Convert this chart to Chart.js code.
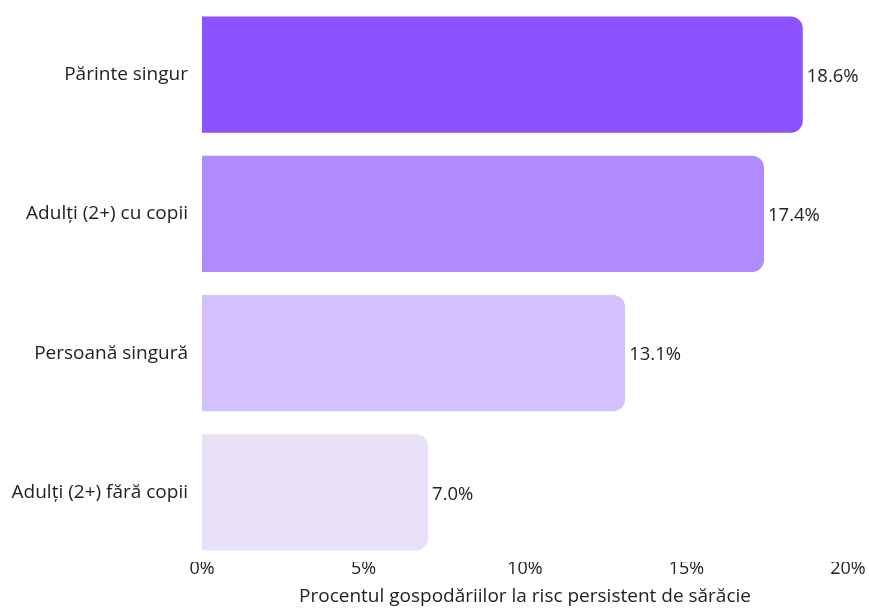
<!DOCTYPE html>
<html>
<head>
<meta charset="utf-8">
<script src="https://cdn.jsdelivr.net/npm/chart.js@4"></script>
<style>
  html, body { margin: 0; padding: 0; background: #fff; }
  #wrap { width: 869px; height: 608px; }
</style>
</head>
<body>
<div id="wrap"><canvas id="grafic"></canvas></div>
<script>
// date
var categorii = ["Părinte singur", "Adulți (2+) cu copii", "Persoană singură", "Adulți (2+) fără copii"];
var valori = [18.6, 17.4, 13.1, 7.0];
var culori = ["#8C52FF", "#B08BFF", "#D4C1FF", "#E8E0F7"];
var titluAxa = "Procentul gospodăriilor la risc persistent de sărăcie";

var FONT = "'Open Sans', sans-serif";
var TEXT = "#222222";
var MARIME = 19;

// eticheta de valoare la capatul barei
var eticheteValori = {
  id: 'eticheteValori',
  afterDatasetsDraw: function(chart){
    var ctx = chart.ctx;
    var meta = chart.getDatasetMeta(0);
    ctx.save();
    ctx.font = "18.5px " + FONT;
    ctx.fillStyle = TEXT;
    ctx.textAlign = "left";
    ctx.textBaseline = "middle";
    meta.data.forEach(function(bar, i){
      ctx.fillText(valori[i].toFixed(1) + "%", bar.x + 4, bar.y + 2);
    });
    ctx.restore();
  }
};

var canvas = document.getElementById('grafic').getContext('2d');
window.grafic = new Chart(canvas, {
  type: 'bar',
  data: {
    labels: categorii,
    datasets: [{
      data: valori,
      backgroundColor: culori,
      borderRadius: { topLeft: 0, bottomLeft: 0, topRight: 12, bottomRight: 12 },
      borderSkipped: false,
      barPercentage: 0.835,
      categoryPercentage: 1
    }]
  },
  options: {
    indexAxis: 'y',
    responsive: true,
    maintainAspectRatio: false,
    animation: false,
    layout: { padding: { top: 5, right: 21, left: 0, bottom: 0 } },
    plugins: {
      legend: { display: false },
      tooltip: { enabled: false }
    },
    scales: {
      x: {
        min: 0,
        max: 20,
        grid: { display: false, drawTicks: false },
        border: { display: false },
        afterFit: function(scale){ scale.height = 46; },
        ticks: {
          stepSize: 5,
          padding: -4,
          color: TEXT,
          font: { family: FONT, size: 18 },
          callback: function(v){ return v + "%"; }
        },
        title: {
          display: true,
          text: titluAxa,
          color: TEXT,
          font: { family: FONT, size: MARIME },
          padding: { top: 0, bottom: 0 }
        }
      },
      y: {
        grid: { display: false, drawTicks: false },
        border: { display: false },
        afterFit: function(scale){
          scale.width = 202;
          scale.paddingTop = 0;
          scale.paddingBottom = 0;
        },
        ticks: {
          padding: 14,
          color: TEXT,
          font: { family: FONT, size: MARIME }
        }
      }
    }
  },
  plugins: [eticheteValori]
});
</script>
</body>
</html>
